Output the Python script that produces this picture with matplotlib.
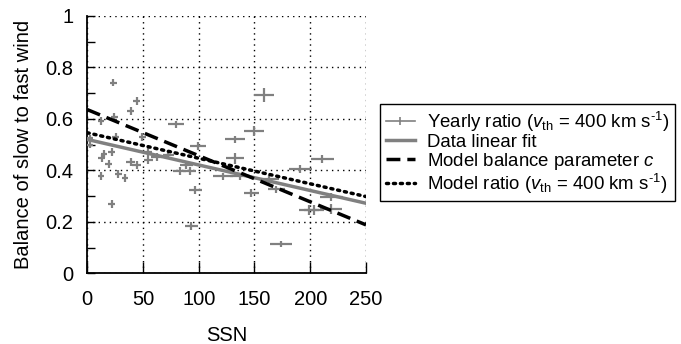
import numpy as np
import matplotlib
matplotlib.use('Agg')
from matplotlib import pyplot as plt
from matplotlib.lines import Line2D

plt.rcParams['font.family'] = ['Liberation Sans', 'DejaVu Sans']
plt.rcParams['mathtext.fontset'] = 'custom'
plt.rcParams['mathtext.rm'] = 'Liberation Sans'
plt.rcParams['mathtext.it'] = 'Liberation Sans:italic'
plt.rcParams['font.size'] = 14.5

# yearly ratio points: sunspot number, ratio and their error bars
ssn = [23.5, 44.3, 38.9, 12.3, 24.5, 2.4, 2.4, 25.7, 49.3, 79.5,
       15.2, 21.9, 13.0, 19.4, 39.2, 44.3, 54.1, 54.7, 62.2, 72.6,
       12.3, 27.8, 33.8, 21.9, 83.0, 92.0, 89.0, 99.5, 97.1, 93.5,
       149.4, 132.3, 132.3, 121.9, 136.8, 147.3, 158.6, 163.0, 169.7, 191.2,
       210.9, 219.0, 198.9, 203.1, 218.4, 173.6]
ratio = [0.741, 0.669, 0.630, 0.591, 0.606, 0.524, 0.500, 0.528, 0.530, 0.578,
         0.462, 0.470, 0.449, 0.424, 0.433, 0.420, 0.470, 0.440, 0.453, 0.459,
         0.378, 0.385, 0.371, 0.268, 0.397, 0.397, 0.420, 0.494, 0.323, 0.185,
         0.552, 0.520, 0.446, 0.376, 0.376, 0.313, 0.692, 0.365, 0.326, 0.404,
         0.443, 0.297, 0.246, 0.246, 0.250, 0.115]
ssn_err = [3, 3, 3, 3, 3, 3, 3, 3, 3, 7,
           3, 3, 3, 3, 4, 4, 4, 4, 5, 5,
           3, 3, 3, 3, 6, 6, 6, 7, 6, 6,
           9, 9, 8, 9, 9, 7, 9, 9, 8, 10,
           10, 10, 9, 9, 10, 10]
ratio_err = [0.015] * 30 + [0.02, 0.015, 0.02, 0.015, 0.015, 0.015, 0.028, 0.015, 0.015, 0.015,
                            0.015, 0.015, 0.02, 0.02, 0.02, 0.012]

# straight lines: value at SSN = 0 and SSN = 250
line_x = [0, 250]
fit_y = [0.520, 0.272]
balance_y = [0.636, 0.188]
model_ratio_y = [0.546, 0.298]

grey = '#808080'
fig = plt.figure(figsize=(6.81, 3.44), dpi=100)
ax = fig.add_axes([0.128, 0.2055, 0.4095, 0.7485])

ax.errorbar(ssn, ratio, xerr=ssn_err, yerr=ratio_err, fmt='none', ecolor=grey,
            elinewidth=1.6, capsize=0, zorder=3)
ax.plot(line_x, fit_y, color=grey, linewidth=2.5, zorder=4)
ax.plot(line_x, balance_y, color='black', linewidth=2.5, dashes=(4, 2), zorder=5)
ax.plot(line_x, model_ratio_y, color='black', linewidth=2.5, linestyle=(0, (0.6, 1.4)),
        dash_capstyle='round', zorder=5)

ax.set_xlim(0, 250)
ax.set_ylim(0, 1)
ax.set_xticks(np.arange(0, 251, 50))
ax.set_yticks(np.arange(0, 1.01, 0.2))
ax.set_yticks(np.arange(0, 1.01, 0.1), minor=True)
ax.set_yticklabels(['0', '0.2', '0.4', '0.6', '0.8', '1'])
ax.grid(True, which='major', color='black', linestyle=(0, (1, 3)), linewidth=1)
ax.tick_params(which='both', direction='in', length=6, width=1, top=False, right=False)
ax.tick_params(axis='x', length=8, pad=12)
ax.tick_params(axis='y', pad=10)
ax.spines['top'].set_visible(False)
ax.spines['right'].set_visible(False)
ax.spines['left'].set_linewidth(1.3)
ax.spines['bottom'].set_linewidth(1.3)

ax.set_xlabel('SSN', labelpad=12)
ax.set_ylabel('Balance of slow to fast wind', labelpad=9)

handles = [
    Line2D([], [], color=grey, linewidth=1.2, marker='|', markersize=6, markeredgewidth=1.2),
    Line2D([], [], color=grey, linewidth=2.5),
    Line2D([], [], color='black', linewidth=2.5, dashes=(4, 2)),
    Line2D([], [], color='black', linewidth=2.5, linestyle=(0, (0.6, 1.4)), dash_capstyle='round'),
]
labels = [r'Yearly ratio ($v_{\rm th}$ = 400 km s$^{\text{-1}}$)', 'Data linear fit',
          r'Model balance parameter $c$', r'Model ratio ($v_{\rm th}$ = 400 km s$^{\text{-1}}$)']
leg = fig.legend(handles, labels, loc='upper left', bbox_to_anchor=(380 / 681, 1 - 104 / 344),
                 frameon=True, fancybox=False, edgecolor='black', framealpha=1,
                 handlelength=1.6, handletextpad=0.6, labelspacing=0.0,
                 borderpad=0.3, borderaxespad=0, fontsize=13.4)
leg.get_frame().set_linewidth(1)

fig.savefig('out.png', dpi=100)
